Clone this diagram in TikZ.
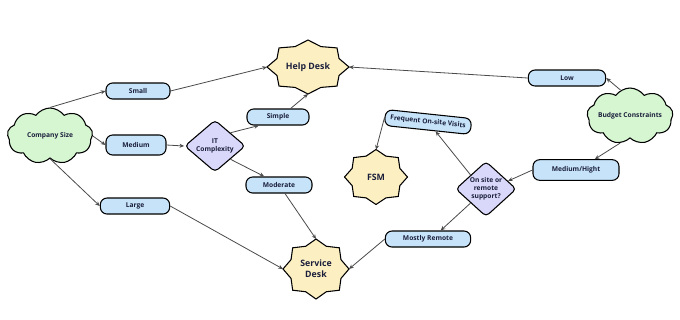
\documentclass[tikz,border=0pt]{standalone}
\usepackage{fontspec}
\setmainfont{Open Sans}
\usetikzlibrary{shapes.symbols, shapes.geometric, arrows.meta, calc}
\definecolor{cloudgreen}{HTML}{D6F6D2}
\definecolor{staryellow}{HTML}{FCEFC2}
\definecolor{decidelilac}{HTML}{D9D8FB}
\definecolor{choiceblue}{HTML}{C6E3F9}
\definecolor{textnavy}{HTML}{1B1F3B}
\definecolor{linkgray}{HTML}{4A4A4A}

\begin{document}
\begin{tikzpicture}[x=0.75pt, y=-0.75pt, >={Stealth[length=3.5pt, width=3pt]},
  every node/.style={font=\bfseries\fontsize{5}{6}\selectfont, text=textnavy},
  choice/.style={rectangle, draw=black, line width=0.8pt, fill=choiceblue, rounded corners=5pt, minimum height=12pt, inner xsep=3pt, inner ysep=1pt},
  factor/.style={cloud, cloud puffs=9, cloud puff arc=110, cloud ignores aspect, draw=black, line width=0.8pt, fill=cloudgreen, inner sep=0pt},
  decide/.style={diamond, draw=black, line width=0.8pt, fill=decidelilac, rounded corners=3pt, inner sep=0pt, align=center, minimum width=45.5pt, minimum height=34pt},
  deskstar/.style={draw=black, line width=0.8pt, fill=staryellow},
  desk/.style={ellipse, inner sep=0pt, outer sep=0pt, align=center, font=\bfseries\fontsize{6.6}{8}\selectfont},
  link/.style={->, draw=linkgray, line width=0.6pt}]
  \useasboundingbox (0,0) rectangle (680,319);

  % desks
  \coordinate (helpc) at (308,67);
  \coordinate (fsmc) at (376,177);
  \coordinate (servc) at (316,269);
  \foreach \c/\rx/\ry/\ix/\iy in {helpc/41/27/33.6/22.1, fsmc/31.5/27.5/25.8/22.6, servc/33/30/27/24.6}
    \draw[deskstar] ($(\c)+(0:{\rx} and {\ry})$)
      \foreach \a in {22.5,67.5,...,337.5} { -- ($(\c)+(\a:{\ix} and {\iy})$) -- ($(\c)+(\a+22.5:{\rx} and {\ry})$) } -- cycle;
  \node[desk, minimum width=61.5pt, minimum height=40.5pt] (help) at (helpc) {Help Desk};
  \node[desk, minimum width=47pt, minimum height=41pt] (fsm) at (fsmc) {FSM};
  \node[desk, minimum width=49.5pt, minimum height=45pt] (serv) at (servc) {Service\\Desk};

  % factors
  \node[factor, minimum width=64pt, minimum height=42pt, label=center:Company Size] (company) at (50,136) {};
  \node[factor, minimum width=64.5pt, minimum height=42pt, label=center:Budget Constraints] (budget) at (630,116) {};

  % decisions
  \node[decide] (it) at (215,146) {IT\\Complexity};
  \node[decide] (onsite) at (486,189) {On site or\\remote\\support?};

  % choices
  \node[choice, minimum width=48pt] (small) at (138,91) {Small};
  \node[choice, minimum width=45pt, minimum height=15pt] (medium) at (136,145) {Medium};
  \node[choice, minimum width=52pt] (large) at (135,206) {Large};
  \node[choice, minimum width=46.5pt] (simple) at (278,117) {Simple};
  \node[choice, minimum width=49.5pt] (moderate) at (279,185) {Moderate};
  \node[choice, minimum width=58pt] (low) at (567,78) {Low};
  \node[choice, minimum width=64.5pt, minimum height=15.5pt] (medhigh) at (576,170) {Medium/Hight};
  \node[choice, inner xsep=4pt, rotate=-6] (freq) at (428,122) {Frequent On-site Visits};
  \node[choice, minimum width=64pt] (remote) at (428,239) {Mostly Remote};

  % links
  \draw[link] (company.north) -- (small.west);
  \draw[link] (small.east) -- (help.west);
  \draw[link] (company.east) -- (medium.west);
  \draw[link] (medium.east) -- (it.west);
  \draw[link] (it.north east) -- (simple.204);
  \draw[link] (simple.34) -- (help.south);
  \draw[link] (it.south east) -- (moderate.150);
  \draw[link] (moderate.-55) -- (serv.north);
  \draw[link] (company.south) -- (large.west);
  \draw[link] (large.east) -- (serv.west);
  \draw[link] (budget.110) -- (low.east);
  \draw[link] (low.west) -- (help.east);
  \draw[link] (budget.-110) -- (medhigh.30);
  \draw[link] (medhigh.west) -- (onsite.20);
  \draw[link] (onsite.north west) -- (freq.-45);
  \draw[link] (freq.west) -- (fsm.north);
  \draw[link] (onsite.south west) -- (remote.34);
  \draw[link] (remote.west) -- (serv.east);
\end{tikzpicture}
\end{document}
